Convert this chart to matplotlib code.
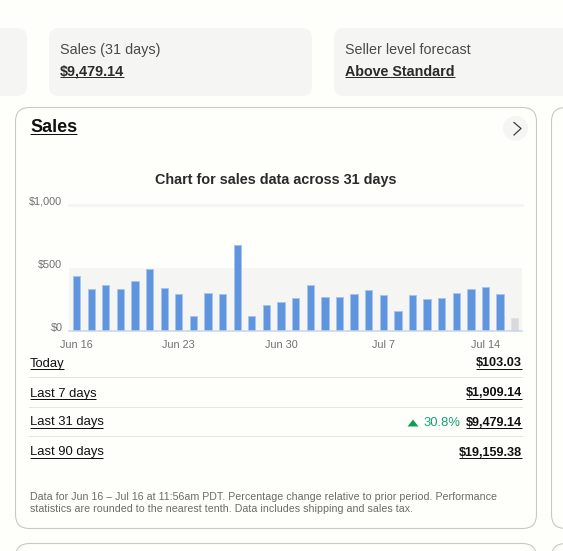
import matplotlib
matplotlib.use("Agg")
import matplotlib.pyplot as plt
from matplotlib.patches import FancyBboxPatch, Circle, Polygon

days = ["Jun 16","Jun 17","Jun 18","Jun 19","Jun 20","Jun 21","Jun 22","Jun 23","Jun 24","Jun 25","Jun 26",
        "Jun 27","Jun 28","Jun 29","Jun 30","Jul 1","Jul 2","Jul 3","Jul 4","Jul 5","Jul 6","Jul 7","Jul 8",
        "Jul 9","Jul 10","Jul 11","Jul 12","Jul 13","Jul 14","Jul 15","Jul 16"]
sales = [432,326,360,332,397,489,339,289,118,295,289,682,118,205,224,260,360,268,268,289,318,284,153,
         284,247,255,295,332,347,289,103.03]
tick_labels = ["Jun 16","Jun 23","Jun 30","Jul 7","Jul 14"]
y_ticks = [0,500,1000]
y_labels = ["$0","$500","$1,000"]
rows = ["Today","Last 7 days","Last 31 days","Last 90 days"]
row_values = ["$103.03","$1,909.14","$9,479.14","$19,159.38"]

W,H = 563,551
BG = "#fefefb"
PANEL = "#f5f6f4"
plt.rcParams["font.family"] = ["Liberation Sans","DejaVu Sans"]
fig = plt.figure(figsize=(W/100,H/100),dpi=100,facecolor=BG)
ui = fig.add_axes([0,0,1,1])
ui.set_xlim(0,W); ui.set_ylim(H,0); ui.axis("off")

def box(x0,y0,x1,y1,r,fc,ec="none",lw=0):
    ui.add_patch(FancyBboxPatch((x0+r,y0+r),x1-x0-2*r,y1-y0-2*r,boxstyle=f"round,pad={r}",fc=fc,ec=ec,lw=lw))

def px(s): return s*0.72

def txt(x,y,s,size,color="#333333",weight="normal",ha="left",ul=False,ul_off=None):
    t = ui.text(x,y+1,s,fontsize=px(size),color=color,fontweight=weight,ha=ha,va="center")
    if ul:
        bb = t.get_window_extent(fig.canvas.get_renderer())
        off = ul_off if ul_off is not None else 6.3
        ui.plot([bb.x0,bb.x1],[y+off,y+off],color=color,lw=0.72,solid_capstyle="butt")
    return t

# top cards
box(-30,28,27,96,10,PANEL)
box(49,28,312,96,10,PANEL)
box(334,28,600,96,10,PANEL)
txt(60,49,"Sales (31 days)",14.4,"#4a4a48")
txt(60,71,"$9,479.14",14.4,"#2b2b2b","bold",ul=True)
txt(345,49,"Seller level forecast",14.2,"#4a4a48")
txt(345,71,"Above Standard",14.2,"#2b2b2b","bold",ul=True)

# main and neighbouring cards
box(15.5,107.5,536.5,528.5,14,BG,"#c8c9c4",0.8)
box(551.5,107.5,620,528.5,14,BG,"#c8c9c4",0.8)
box(15.5,543.5,536.5,620,14,BG,"#c8c9c4",0.8)
box(551.5,543.5,620,620,14,BG,"#c8c9c4",0.8)

txt(30,126.5,"Sales",18,"#111111","bold",ul=True,ul_off=7.7)
ui.add_patch(Circle((515.5,128.3),12.5,fc=PANEL,ec="none"))
ui.plot([514,521,514],[122.5,128.5,135],color="#333333",lw=0.85)
txt(275.5,179,"Chart for sales data across 31 days",14.4,"#2b2b2b","bold",ha="center")

# rows
for yy in (377.3,407.3,436.3):
    ui.plot([29,522],[yy,yy],color="#e4e5e1",lw=0.72)
for yy,r,v in zip((362.5,392.5,421.5,451.5),rows,row_values):
    txt(29.5,yy,r,13,"#111111",ul=True,ul_off=6)
    txt(522,yy,v,12.6,"#111111","bold",ha="right",ul=True,ul_off=6)
ui.add_patch(Polygon([[407.5,426.5],[418.5,426.5],[413,419.5]],fc="#0f9d58",ec="none"))
txt(460,421.5,"30.8%",13,"#12a37a",ha="right")

txt(29.5,496.5,"Data for Jun 16 \u2013 Jul 16 at 11:56am PDT. Percentage change relative to prior period. Performance",10.65,"#6b6b68")
txt(29.5,508.3,"statistics are rounded to the nearest tenth. Data includes shipping and sales tax.",10.65,"#6b6b68")

# chart
L,R,T,B = 69.3,522,204.7,330.5
ax = fig.add_axes([L/W,1-B/H,(R-L)/W,(B-T)/H])
ax.patch.set_alpha(0)
ax.set_xlim(-0.5,len(sales)-0.5); ax.set_ylim(0,1000)
for s in ax.spines.values(): s.set_visible(False)
ax.axhspan(0,500,color=PANEL,lw=0,zorder=0)
ax.axhline(1000,color=PANEL,lw=2.2,clip_on=False,zorder=0)
xs = list(range(len(sales)))
face = ["#5f95de"]*(len(sales)-1)+["#d9d9d9"]
edge = ["#a9c4ec"]*(len(sales)-1)+["#e2e2e2"]
ax.bar(xs,sales,width=0.5,color=face,edgecolor=edge,linewidth=0.7,zorder=2)
ax.axhline(0,color="#c9d5ec",lw=1.1,clip_on=False,zorder=3)
ax.set_xticks([days.index(d) for d in tick_labels],tick_labels)
ax.set_yticks(y_ticks,y_labels)
ax.tick_params(axis="both",length=0,labelsize=px(10.9),labelcolor="#707070")
ax.tick_params(axis="x",pad=6.5)
ax.tick_params(axis="y",pad=5)
for l in ax.get_yticklabels(): l.set_va("baseline")

fig.savefig("out.png",dpi=100,facecolor=BG)
